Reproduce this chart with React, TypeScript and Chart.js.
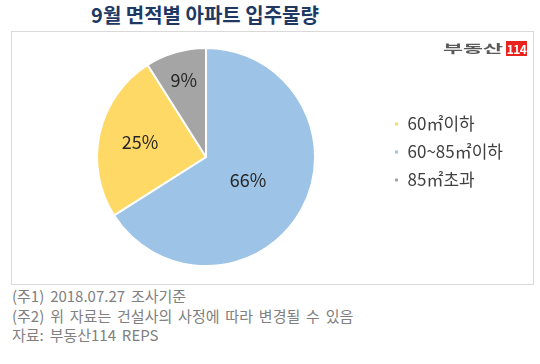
import React, { useEffect, useRef } from "react";
import { Chart, registerables } from "chart.js";

Chart.register(...registerables);

const categories = ["60~85㎡이하", "60㎡이하", "85㎡초과"];
const values = [66, 25, 9];
const legendOrder = [1, 0, 2];
const title = "9월 면적별 아파트 입주물량";
const notes = [
  "(주1) 2018.07.27 조사기준",
  "(주2) 위 자료는 건설사의 사정에 따라 변경될 수 있음",
  "자료: 부동산114 REPS",
];

const colors = ["#9DC3E6", "#FFD966", "#A5A5A5"];
const labelRadius = [0.44, 0.62, 0.73];
const FONT = "'Noto Sans CJK KR', 'Noto Sans', sans-serif";

const labelPlugin = {
  id: "sliceLabels",
  afterDatasetsDraw(chart: any) {
    const ctx = chart.ctx;
    const meta = chart.getDatasetMeta(0);
    ctx.save();
    ctx.font = `18px ${FONT}`;
    ctx.fillStyle = "#262626";
    ctx.textAlign = "center";
    ctx.textBaseline = "middle";
    meta.data.forEach((el: any, i: number) => {
      const mid = (el.startAngle + el.endAngle) / 2;
      const r = el.outerRadius * labelRadius[i];
      ctx.fillText(`${values[i]}%`, el.x + Math.cos(mid) * r, el.y + Math.sin(mid) * r);
    });
    ctx.restore();
  },
};

const legendShift = {
  id: "legendShift",
  afterLayout(chart: any) {
    const l = chart.legend;
    if (l) {
      l.top -= 5;
      l.bottom -= 5;
    }
  },
};

export default function App() {
  const ref = useRef<HTMLCanvasElement | null>(null);
  useEffect(() => {
    document.body.style.margin = "0";
    const chart = new Chart(ref.current as HTMLCanvasElement, {
      type: "pie",
      data: {
        labels: categories,
        datasets: [
          {
            data: values,
            backgroundColor: colors,
            borderColor: "#ffffff",
            borderWidth: 2,
          },
        ],
      },
      options: {
        animation: false,
        responsive: false,
        maintainAspectRatio: false,
        layout: { padding: { left: 17, right: 19, top: 15, bottom: 16 } },
        plugins: {
          tooltip: { enabled: false },
          legend: {
            position: "right",
            labels: {
              boxWidth: 5,
              boxHeight: 5,
              padding: 11,
              color: "#404040",
              font: { size: 17, family: FONT },
              sort: (a: any, b: any) => legendOrder.indexOf(a.index) - legendOrder.indexOf(b.index),
            },
          },
        },
      },
      plugins: [labelPlugin, legendShift],
    });
    return () => chart.destroy();
  }, []);

  return (
    <div style={{ position: "absolute", left: 0, top: 0, width: 540, height: 364, background: "#fff", fontFamily: FONT }}>
      <div
        style={{
          position: "absolute",
          left: 0,
          top: 1,
          width: 410,
          textAlign: "center",
          fontSize: 20,
          fontWeight: 700,
          color: "#203864",
          lineHeight: "28px",
        }}
      >
        {title}
      </div>
      <div
        style={{
          position: "absolute",
          left: 11,
          top: 31,
          width: 521,
          height: 252,
          border: "1px solid #d9d9d9",
        }}
      />
      <canvas
        ref={ref}
        width={520}
        height={251}
        style={{ position: "absolute", left: 12, top: 32, width: 520, height: 251 }}
      />
      <span
        style={{
          position: "absolute",
          left: 443,
          top: 40,
          fontSize: 16,
          fontWeight: 700,
          color: "#595959",
          lineHeight: "17px",
          whiteSpace: "nowrap",
          transformOrigin: "0 50%",
          transform: "scale(1.36, 0.74)",
        }}
      >
        부동산
      </span>
      <span
        style={{
          position: "absolute",
          left: 506,
          top: 41,
          background: "#E8231E",
          color: "#fff",
          fontSize: 12,
          fontWeight: 700,
          width: 21,
          height: 15,
          lineHeight: "15px",
          textAlign: "center",
          letterSpacing: -0.5,
        }}
      >
        114
      </span>
      {notes.map((n, i) => (
        <div
          key={i}
          style={{
            position: "absolute",
            left: 12,
            top: 285 + i * 19.5,
            fontSize: 15,
            lineHeight: "21px",
            color: "#808080",
            wordSpacing: 2.5,
            whiteSpace: "nowrap",
          }}
        >
          {n}
        </div>
      ))}
    </div>
  );
}
